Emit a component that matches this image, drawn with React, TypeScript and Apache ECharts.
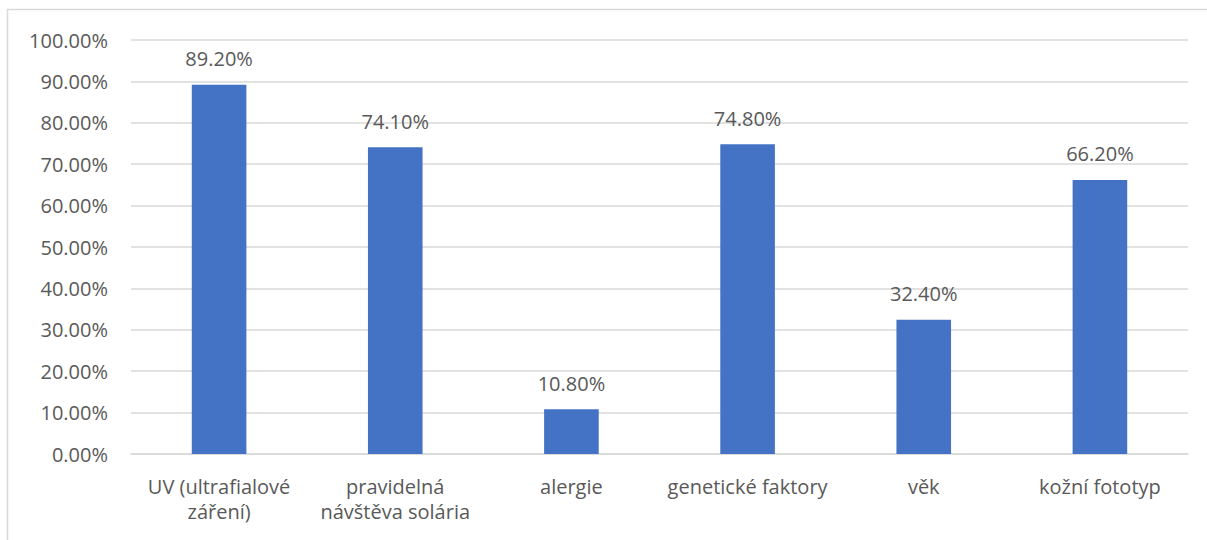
import React, { useEffect, useRef } from "react";
import * as echarts from "echarts";

const categories = [
  "UV (ultrafialové\nzáření)",
  "pravidelná\nnávštěva solária",
  "alergie",
  "genetické faktory",
  "věk",
  "kožní fototyp",
];
const values = [89.2, 74.1, 10.8, 74.8, 32.4, 66.2];

const FONT = "'Open Sans', sans-serif";
const TXT = "#595959";

export default function App() {
  const ref = useRef<HTMLDivElement>(null);
  useEffect(() => {
    document.body.style.margin = "0";
    const chart = echarts.init(ref.current!, null, { renderer: "svg" });
    chart.setOption({
      animation: false,
      backgroundColor: "#ffffff",
      graphic: [
        {
          type: "rect",
          shape: { x: 7.5, y: 9.5, width: 1400, height: 700 },
          style: { fill: "none", stroke: "#d9d9d9", lineWidth: 1.5 },
          silent: true,
        },
      ],
      grid: { left: 131, right: 19, top: 40, bottom: 86, containLabel: false },
      xAxis: {
        type: "category",
        data: categories,
        axisTick: { show: false },
        axisLine: { lineStyle: { color: "#d9d9d9", width: 1.5 } },
        axisLabel: {
          color: TXT,
          fontFamily: FONT,
          fontSize: 20,
          lineHeight: 25,
          margin: 20,
          interval: 0,
        },
      },
      yAxis: {
        type: "value",
        min: 0,
        max: 100,
        interval: 10,
        axisLine: { show: false },
        axisTick: { show: false },
        splitLine: { lineStyle: { color: "#d9d9d9", width: 1.5 } },
        axisLabel: {
          color: TXT,
          fontFamily: FONT,
          fontSize: 20,
          margin: 23,
          formatter: (v: number) => v.toFixed(2) + "%",
        },
      },
      series: [
        {
          type: "bar",
          data: values,
          barWidth: "31%",
          itemStyle: { color: "#4472C4" },
          label: {
            show: true,
            position: "top",
            distance: 16,
            color: TXT,
            fontFamily: FONT,
            fontSize: 20,
            formatter: (p: any) => p.value.toFixed(2) + "%",
          },
        },
      ],
    });
    return () => chart.dispose();
  }, []);
  return <div ref={ref} style={{ width: 1207, height: 540 }} />;
}
